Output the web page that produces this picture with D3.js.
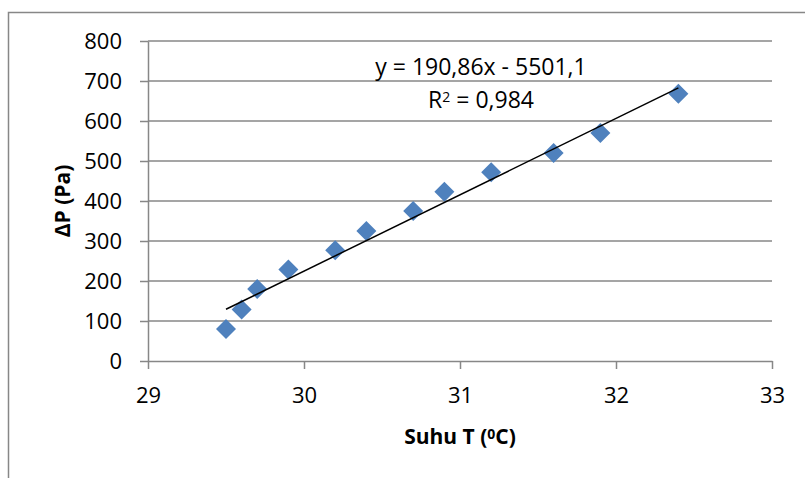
<!DOCTYPE html>
<html>
<head>
<meta charset="utf-8">
<script src="https://cdn.jsdelivr.net/npm/d3@7"></script>
<style>
  body { margin: 0; background: #fff; }
  svg { display: block; font-family: "Open Sans", sans-serif; }
</style>
</head>
<body>
<div id="chart"></div>
<script>
// measured points: temperature (C) vs pressure difference (Pa)
const suhu = [29.5, 29.6, 29.7, 29.9, 30.2, 30.4, 30.7, 30.9, 31.2, 31.6, 31.9, 32.4];
const deltaP = [80, 129, 180, 229, 277, 325, 375, 423, 472, 520, 570, 668];
const xTicks = [29, 30, 31, 32, 33];
const yTicks = [0, 100, 200, 300, 400, 500, 600, 700, 800];
const trendSlope = 190.86;
const trendIntercept = -5501.1;
const eqLabel = "y = 190,86x - 5501,1";
const r2Label = "0,984";

const width = 805, height = 478;
const margin = { top: 41, right: 33, bottom: 117, left: 148 };
const gridColor = "#878787";
const markerColor = "#4f81bd";

const svg = d3.select("#chart").append("svg")
  .attr("width", width)
  .attr("height", height);

// outer chart border (runs off the right and bottom edges)
svg.append("rect")
  .attr("x", 8.5).attr("y", 12.5)
  .attr("width", 830).attr("height", 490)
  .attr("fill", "none")
  .attr("stroke", gridColor)
  .attr("stroke-width", 1.5);

const x = d3.scaleLinear().domain([29, 33]).range([margin.left, width - margin.right]);
const y = d3.scaleLinear().domain([0, 800]).range([height - margin.bottom, margin.top]);

// horizontal gridlines
svg.append("g").selectAll("line").data(yTicks.filter(d => d > 0)).join("line")
  .attr("x1", margin.left).attr("x2", width - margin.right)
  .attr("y1", d => y(d)).attr("y2", d => y(d))
  .attr("stroke", gridColor).attr("stroke-width", 1.5);

// y axis
let gY = svg.append("g")
  .attr("transform", `translate(${margin.left},0)`)
  .call(d3.axisLeft(y).tickValues(yTicks).tickSize(8).tickPadding(18).tickSizeOuter(0));
gY.select(".domain").attr("stroke", gridColor).attr("stroke-width", 1.5);
gY.selectAll(".tick line").attr("stroke", gridColor).attr("stroke-width", 1.5);
gY.selectAll("text").attr("font-size", 22).attr("fill", "#000").attr("font-family", "Open Sans");

// x axis
let gX = svg.append("g")
  .attr("transform", `translate(0,${height - margin.bottom})`)
  .call(d3.axisBottom(x).tickValues(xTicks).tickSize(8).tickPadding(18).tickFormat(d3.format("d")).tickSizeOuter(0));
gX.select(".domain").attr("stroke", gridColor).attr("stroke-width", 1.5);
gX.selectAll(".tick line").attr("stroke", gridColor).attr("stroke-width", 1.5);
gX.selectAll("text").attr("font-size", 22).attr("fill", "#000").attr("font-family", "Open Sans");

// axis titles
svg.append("text")
  .attr("transform", `translate(70,${y(400)}) rotate(-90)`)
  .attr("text-anchor", "middle")
  .attr("font-size", 21)
  .attr("font-weight", "bold")
  .text("ΔP (Pa)");

let xt = svg.append("text")
  .attr("x", x(31))
  .attr("y", 444)
  .attr("text-anchor", "middle")
  .attr("font-size", 21)
  .attr("font-weight", "bold");
xt.append("tspan").text("Suhu T (");
xt.append("tspan").attr("font-size", 14).attr("baseline-shift", "38%").text("0");
xt.append("tspan").text("C)");

// markers
const diamond = d3.symbol(d3.symbolSquare, 200);
svg.append("g").selectAll("path").data(suhu.map((s, i) => [s, deltaP[i]])).join("path")
  .attr("d", diamond)
  .attr("transform", d => `translate(${x(d[0])},${y(d[1])}) rotate(45)`)
  .attr("fill", markerColor);

// linear trendline
const xMin = d3.min(suhu), xMax = d3.max(suhu);
const trend = [xMin, xMax].map(v => [v, trendSlope * v + trendIntercept]);
svg.append("path")
  .datum(trend)
  .attr("d", d3.line().x(d => x(d[0])).y(d => y(d[1])))
  .attr("stroke", "#000")
  .attr("stroke-width", 1.5)
  .attr("fill", "none");

// trendline labels
svg.append("text")
  .attr("x", 481).attr("y", 75)
  .attr("text-anchor", "middle")
  .attr("font-size", 23)
  .text(eqLabel);

let r2 = svg.append("text")
  .attr("x", 481).attr("y", 108)
  .attr("text-anchor", "middle")
  .attr("font-size", 23);
r2.append("tspan").text("R");
r2.append("tspan").attr("font-size", 14).attr("baseline-shift", "45%").text("2");
r2.append("tspan").text(" = " + r2Label);
</script>
</body>
</html>
